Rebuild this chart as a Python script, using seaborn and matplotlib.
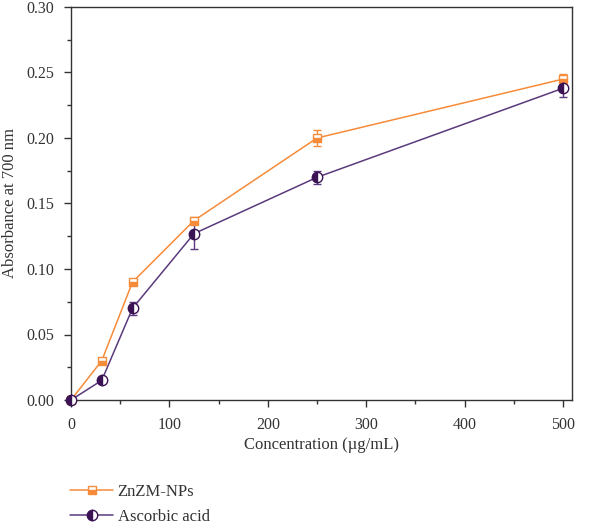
import numpy as np
import pandas as pd
import matplotlib
matplotlib.use("Agg")
import matplotlib.pyplot as plt
import seaborn as sns
from matplotlib.ticker import MultipleLocator, FormatStrFormatter

conc = [0, 31.25, 62.5, 125, 250, 500]
zn_vals = [0.0, 0.030, 0.090, 0.137, 0.200, 0.245]
zn_err = [0.0, 0.002, 0.002, 0.003, 0.006, 0.004]
aa_vals = [0.0, 0.015, 0.070, 0.127, 0.170, 0.238]
aa_err = [0.0, 0.001, 0.005, 0.012, 0.005, 0.007]
labels = ["ZnZM-NPs", "Ascorbic acid"]

orange = "#f68b3a"
purple_line = "#5a3a7c"
purple_mark = "#3b1254"

sns.set_style("ticks")
plt.rcParams['font.family'] = ['Liberation Serif', 'DejaVu Serif']

fig = plt.figure(figsize=(6.0, 5.26), dpi=100)
ax = fig.add_axes([71/600, 1-400/526, 501/600, 393/526])

df_zn = pd.DataFrame({"x": conc, "y": zn_vals})
df_aa = pd.DataFrame({"x": conc, "y": aa_vals})

ax.errorbar(conc, zn_vals, yerr=zn_err, fmt='none', ecolor=orange, elinewidth=1.0,
            capsize=3, capthick=1.0, zorder=2)
ax.errorbar(conc, aa_vals, yerr=aa_err, fmt='none', ecolor=purple_line, elinewidth=1.0,
            capsize=3, capthick=1.0, zorder=2)

sns.lineplot(data=df_zn, x="x", y="y", ax=ax, color=orange, linewidth=1.1,
             marker='s', markersize=6.3, fillstyle='bottom', markerfacecolor=orange,
             markerfacecoloralt='white', markeredgecolor=orange, markeredgewidth=1.0,
             label=labels[0], zorder=3, clip_on=False)
sns.lineplot(data=df_aa, x="x", y="y", ax=ax, color=purple_line, linewidth=1.1,
             marker='o', markersize=7.5, fillstyle='left', markerfacecolor=purple_mark,
             markerfacecoloralt='white', markeredgecolor=purple_mark, markeredgewidth=1.0,
             label=labels[1], zorder=4, clip_on=False)

ax.set_xlim(0, 509)
ax.set_ylim(0, 0.30)
ax.xaxis.set_major_locator(MultipleLocator(100))
ax.xaxis.set_minor_locator(MultipleLocator(50))
ax.yaxis.set_major_locator(MultipleLocator(0.05))
ax.yaxis.set_minor_locator(MultipleLocator(0.025))
ax.yaxis.set_major_formatter(FormatStrFormatter('%.2f'))
ax.tick_params(axis='both', which='major', length=5, width=1, labelsize=11.5,
               colors='#333333', pad=7)
ax.tick_params(axis='both', which='minor', length=3, width=1, colors='#333333')
for s in ax.spines.values():
    s.set_color('#333333')
    s.set_linewidth(1.0)
ax.set_xlabel("Concentration (µg/mL)", fontsize=12, color='#333333', labelpad=3)
ax.set_ylabel("Absorbance at 700 nm", fontsize=12, color='#333333', labelpad=6)

handles, labs = ax.get_legend_handles_labels()
ax.legend(handles, labs, loc='upper left', bbox_to_anchor=(55/600, 1-469/526),
          bbox_transform=fig.transFigure, frameon=False, fontsize=12,
          handlelength=2.6, handletextpad=0.25, labelspacing=0.55, labelcolor='#333333')

fig.savefig("out.png", dpi=100)
